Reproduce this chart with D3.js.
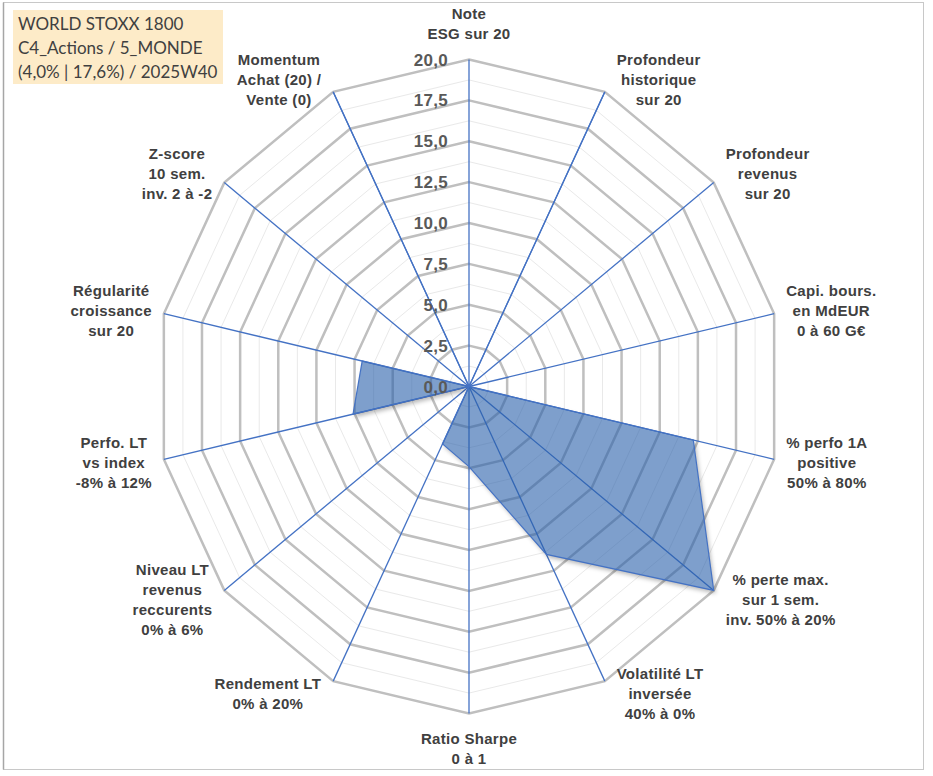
<!DOCTYPE html>
<html>
<head>
<meta charset="utf-8">
<script src="https://cdn.jsdelivr.net/npm/d3@7"></script>
<style>
  html, body { margin: 0; padding: 0; background: #fff; }
  svg { display: block; }
</style>
</head>
<body>
<svg id="chart" width="933" height="776"></svg>
<script>
// ---------------- DATA ----------------
const titleLines = ["WORLD STOXX 1800", "C4_Actions / 5_MONDE", "(4,0% | 17,6%) / 2025W40"];

const categories = [
  ["Note", "ESG sur 20"],
  ["Profondeur", "historique", "sur 20"],
  ["Profondeur", "revenus", "sur 20"],
  ["Capi. bours.", "en MdEUR", "0 à 60 G€"],
  ["% perfo 1A", "positive", "50% à 80%"],
  ["% perte max.", "sur 1 sem.", "inv. 50% à 20%"],
  ["Volatilité LT", "inversée", "40% à 0%"],
  ["Ratio Sharpe", "0 à 1"],
  ["Rendement LT", "0% à 20%"],
  ["Niveau LT", "revenus", "reccurents", "0% à 6%"],
  ["Perfo. LT", "vs index", "-8% à 12%"],
  ["Régularité", "croissance", "sur 20"],
  ["Z-score", "10 sem.", "inv. 2 à -2"],
  ["Momentum", "Achat (20) /", "Vente (0)"]
];

const values = [0, 20, 0, 0, 14.7, 20, 11.4, 4.9, 3.9, 0, 7.6, 7.0, 0, 20];

const majorTicks = [0, 2.5, 5, 7.5, 10, 12.5, 15, 17.5, 20];
const tickLabels = ["0,0", "2,5", "5,0", "7,5", "10,0", "12,5", "15,0", "17,5", "20,0"];
const minorTicks = [1.25, 3.75, 6.25, 8.75, 11.25, 13.75, 16.25, 18.75];

// ---------------- LAYOUT ----------------
const cx = 469, cy = 386.5;
const svg = d3.select("#chart");

const rx = d3.scaleLinear().domain([0, 20]).range([0, 313]);
const ry = d3.scaleLinear().domain([0, 20]).range([0, 327]);
const angle = d3.scaleLinear().domain([0, categories.length]).range([0, 2 * Math.PI]);

function pt(i, v) {
  const a = angle(i);
  return [cx + rx(v) * Math.sin(a), cy - ry(v) * Math.cos(a)];
}

// border
svg.append("rect")
  .attr("x", 3.5).attr("y", 2.5).attr("width", 920).attr("height", 767)
  .attr("fill", "#fff").attr("stroke", "#c8c8c8").attr("stroke-width", 1);
svg.append("line").attr("x1", 3.5).attr("x2", 3.5).attr("y1", 2.5).attr("y2", 769.5)
  .attr("stroke", "#a6a6a6").attr("stroke-width", 1.5);

const idx = d3.range(categories.length);
const ringLine = d3.line().curve(d3.curveLinearClosed);
const areaPath = ringLine(values.map((v, i) => pt(i, v)));

// defs: blur for shadow + mask that hides shadow under the area
const defs = svg.append("defs");
defs.append("filter").attr("id", "blur").attr("x", "-10%").attr("y", "-10%")
  .attr("width", "130%").attr("height", "130%")
  .append("feGaussianBlur").attr("stdDeviation", 2);
const mask = defs.append("mask").attr("id", "outside")
  .attr("maskUnits", "userSpaceOnUse").attr("x", 0).attr("y", 0).attr("width", 933).attr("height", 776);
mask.append("rect").attr("x", 0).attr("y", 0).attr("width", 933).attr("height", 776).attr("fill", "#fff");
mask.append("path").attr("d", areaPath).attr("fill", "#000");

// minor gridlines
svg.append("g").selectAll("path").data(minorTicks).join("path")
  .attr("d", l => ringLine(idx.map(i => pt(i, l))))
  .attr("fill", "none").attr("stroke", "#e9e9e9").attr("stroke-width", 1);

// major gridlines
svg.append("g").selectAll("path").data(majorTicks.filter(t => t > 0)).join("path")
  .attr("d", l => ringLine(idx.map(i => pt(i, l))))
  .attr("fill", "none").attr("stroke", "#bfbfbf").attr("stroke-width", 2.5)
  .attr("stroke-linejoin", "miter");

// spokes
svg.append("g").selectAll("line").data(idx).join("line")
  .attr("x1", cx).attr("y1", cy)
  .attr("x2", i => pt(i, 20)[0]).attr("y2", i => pt(i, 20)[1])
  .attr("stroke", "#4472C4").attr("stroke-width", 1.3);

// shadow of data area (outside only)
svg.append("g").attr("mask", "url(#outside)")
  .append("path")
  .attr("d", areaPath)
  .attr("transform", "translate(2,3)")
  .attr("fill", "#000").attr("fill-opacity", 0.28)
  .attr("filter", "url(#blur)");

// data area
svg.append("path")
  .attr("d", areaPath)
  .attr("fill", "#285FAA").attr("fill-opacity", 0.6)
  .attr("stroke", "#4472C4").attr("stroke-width", 1.2)
  .attr("stroke-linejoin", "miter");

// tick labels
svg.append("g").selectAll("text").data(majorTicks).join("text")
  .attr("x", cx - 21)
  .attr("y", t => cy - ry(t))
  .attr("dy", "0.36em")
  .attr("text-anchor", "end")
  .attr("font-family", "'Liberation Sans', Arial, sans-serif")
  .attr("font-weight", "bold")
  .attr("font-size", 17)
  .attr("letter-spacing", 0.3)
  .attr("fill", "#595959")
  .text((t, k) => tickLabels[k]);

// axis labels
const lineH = 20;
const lg = svg.append("g")
  .attr("font-family", "'Liberation Sans', Arial, sans-serif")
  .attr("font-weight", "bold")
  .attr("font-size", 15)
  .attr("letter-spacing", 0.3)
  .attr("fill", "#404040");

categories.forEach((lines, i) => {
  const a = angle(i);
  const s = Math.sin(a), c = Math.cos(a);
  const [vx, vy] = pt(i, 20);
  const t = lg.append("text").attr("text-anchor", "middle");
  const spans = t.selectAll("tspan").data(lines).join("tspan").text(d => d);
  let wmax = 0;
  spans.each(function () { wmax = Math.max(wmax, this.getComputedTextLength()); });
  const n = lines.length;
  const h = n * lineH;
  let bx, by;
  if (Math.abs(s) < 0.01) {
    bx = vx;
    by = c > 0 ? vy - 15.5 - h / 2 : vy + 15.5 + h / 2;
  } else {
    bx = vx + Math.sign(s) * (wmax / 2 + 12);
    by = vy - c * 14;
  }
  spans.attr("x", bx)
    .attr("y", (d, k) => by + (k - (n - 1) / 2) * lineH)
    .attr("dy", "0.36em");
});

// title box
const tg = svg.append("g");
tg.append("rect").attr("x", 13).attr("y", 10).attr("width", 210).attr("height", 74)
  .attr("fill", "#FDEBC8");
tg.selectAll("text").data(titleLines).join("text")
  .attr("x", 18).attr("y", (d, k) => 24 + k * 24)
  .attr("dy", "0.36em")
  .attr("font-family", "Lato, 'Open Sans', sans-serif")
  .attr("font-size", 17)
  .attr("fill", "#404040")
  .text(d => d);
</script>
</body>
</html>
